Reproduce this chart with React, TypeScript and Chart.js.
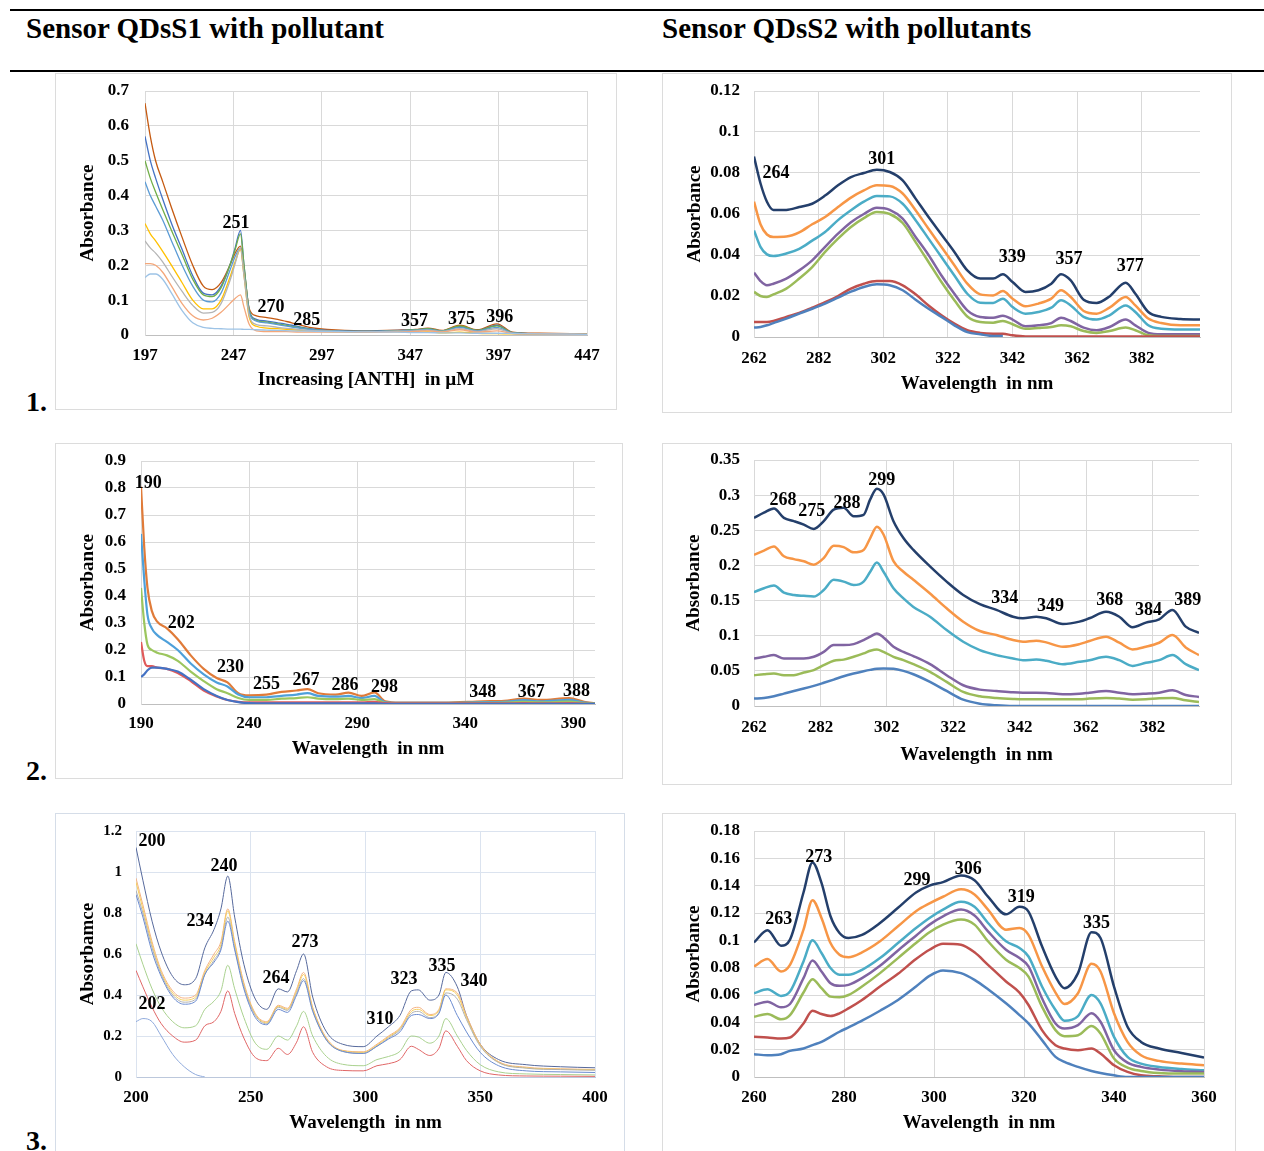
import React, { useEffect, useRef } from 'react';
import { Chart, registerables } from 'chart.js';

Chart.register(...registerables);

const FONT = '"Liberation Serif", "Times New Roman", serif';

// ---------- Chart 1 : Sensor QDsS1 + ANTH ----------
const X1 = [197, 200, 203, 207, 212, 218, 224, 230, 235, 240, 245, 248, 251, 253, 256, 260, 266, 272, 280, 290, 300, 320, 340, 350, 357, 365, 375, 385, 396, 405, 420, 447];
const S1_BROWN = [0.665, 0.57, 0.5, 0.44, 0.365, 0.28, 0.2, 0.14, 0.13, 0.15, 0.2, 0.235, 0.255, 0.19, 0.075, 0.055, 0.05, 0.045, 0.035, 0.022, 0.016, 0.012, 0.014, 0.016, 0.02, 0.013, 0.028, 0.015, 0.032, 0.008, 0.005, 0.003];
const S1_BLUE = [0.57, 0.5, 0.45, 0.39, 0.32, 0.245, 0.17, 0.12, 0.115, 0.14, 0.2, 0.25, 0.3, 0.2, 0.07, 0.045, 0.04, 0.035, 0.028, 0.018, 0.013, 0.011, 0.013, 0.015, 0.018, 0.012, 0.024, 0.013, 0.028, 0.007, 0.004, 0.002];
const S1_GREEN = [0.5, 0.45, 0.41, 0.36, 0.3, 0.23, 0.16, 0.115, 0.11, 0.135, 0.2, 0.245, 0.29, 0.2, 0.07, 0.042, 0.037, 0.032, 0.025, 0.017, 0.012, 0.01, 0.012, 0.015, 0.018, 0.012, 0.026, 0.013, 0.026, 0.007, 0.004, 0.002];
const S1_BLUE2 = [0.44, 0.4, 0.37, 0.33, 0.27, 0.2, 0.14, 0.1, 0.095, 0.12, 0.185, 0.225, 0.25, 0.18, 0.065, 0.04, 0.035, 0.03, 0.023, 0.016, 0.012, 0.01, 0.012, 0.014, 0.016, 0.011, 0.022, 0.012, 0.022, 0.006, 0.004, 0.002];
const S1_YELLOW = [0.32, 0.29, 0.27, 0.24, 0.2, 0.15, 0.1, 0.075, 0.075, 0.1, 0.165, 0.21, 0.245, 0.17, 0.05, 0.025, 0.02, 0.018, 0.015, 0.012, 0.01, 0.009, 0.01, 0.008, 0.009, 0.006, 0.008, 0.005, 0.004, 0.003, 0.002, 0.002];
const S1_GRAY = [0.27, 0.25, 0.235, 0.21, 0.17, 0.125, 0.085, 0.063, 0.065, 0.09, 0.155, 0.205, 0.25, 0.17, 0.055, 0.03, 0.026, 0.022, 0.018, 0.013, 0.011, 0.009, 0.011, 0.012, 0.014, 0.01, 0.018, 0.01, 0.018, 0.005, 0.003, 0.002];
const S1_SALMON = [0.205, 0.205, 0.2, 0.18, 0.14, 0.09, 0.055, 0.043, 0.048, 0.065, 0.09, 0.105, 0.115, 0.08, 0.03, 0.012, 0.01, 0.01, 0.009, 0.008, 0.008, 0.008, 0.009, 0.01, 0.012, 0.009, 0.015, 0.008, 0.012, 0.004, 0.003, 0.002];
const S1_LIGHTBLUE = [0.165, 0.175, 0.175, 0.16, 0.12, 0.07, 0.035, 0.022, 0.019, 0.018, 0.017, 0.017, 0.017, 0.016, 0.016, 0.015, 0.014, 0.013, 0.012, 0.011, 0.01, 0.009, 0.008, 0.007, 0.007, 0.006, 0.006, 0.005, 0.005, 0.004, 0.003, 0.002];
const X1_TICKS = [197, 247, 297, 347, 397, 447];
const PEAKS1: [string, number, number][] = [['251', 248.4, 0.321], ['270', 268.2, 0.08], ['285', 288.5, 0.043], ['357', 349.5, 0.04], ['375', 376, 0.046], ['396', 397.6, 0.051]];

// ---------- Chart 2 : Sensor QDsS2 (row 1) ----------
const X2 = [262, 264, 266, 268, 272, 276, 280, 284, 288, 292, 296, 300, 304, 308, 312, 316, 320, 324, 328, 332, 336, 339, 342, 346, 350, 354, 357, 360, 364, 368, 372, 377, 380, 384, 388, 394, 400];
const S2_NAVY = [0.088, 0.075, 0.066, 0.062, 0.062, 0.0634, 0.065, 0.069, 0.074, 0.078, 0.08, 0.0816, 0.0805, 0.0764, 0.0675, 0.0585, 0.05, 0.0415, 0.0325, 0.0285, 0.0285, 0.0306, 0.0268, 0.022, 0.0228, 0.026, 0.0306, 0.0276, 0.0182, 0.0166, 0.0198, 0.0265, 0.0211, 0.0122, 0.0098, 0.0088, 0.0085];
const S2_ORANGE = [0.066, 0.055, 0.05, 0.0488, 0.049, 0.051, 0.055, 0.0585, 0.0634, 0.068, 0.0715, 0.074, 0.0737, 0.07, 0.0618, 0.0528, 0.0439, 0.035, 0.026, 0.0208, 0.0203, 0.0224, 0.0187, 0.015, 0.0163, 0.0187, 0.0228, 0.0195, 0.0127, 0.0114, 0.0143, 0.0195, 0.0154, 0.009, 0.0068, 0.0057, 0.0057];
const S2_AQUA = [0.052, 0.044, 0.0403, 0.0395, 0.0407, 0.043, 0.047, 0.0512, 0.057, 0.0618, 0.066, 0.0688, 0.0686, 0.065, 0.057, 0.048, 0.039, 0.03, 0.0211, 0.0167, 0.0166, 0.0187, 0.0146, 0.0114, 0.0122, 0.0143, 0.0179, 0.0154, 0.0098, 0.0085, 0.0106, 0.0154, 0.0122, 0.0057, 0.004, 0.0036, 0.0036];
const S2_PURPLE = [0.0314, 0.0273, 0.0252, 0.026, 0.0285, 0.0325, 0.0374, 0.044, 0.0504, 0.056, 0.06, 0.063, 0.062, 0.0577, 0.0488, 0.04, 0.03, 0.0211, 0.013, 0.0098, 0.0094, 0.0104, 0.0085, 0.0052, 0.0057, 0.0068, 0.0094, 0.0078, 0.0046, 0.0033, 0.0049, 0.0085, 0.0057, 0.002, 0.0013, 0.0013, 0.0013];
const S2_GREEN = [0.022, 0.02, 0.0195, 0.0208, 0.0236, 0.0285, 0.0341, 0.0415, 0.048, 0.0537, 0.058, 0.061, 0.06, 0.0556, 0.0463, 0.0366, 0.0268, 0.0179, 0.01, 0.0073, 0.007, 0.0078, 0.0062, 0.004, 0.0044, 0.0049, 0.0057, 0.0052, 0.0029, 0.002, 0.0029, 0.0046, 0.0033, 0.0008, 0.0005, 0.0005, 0.0005];
const S2_RED = [0.0073, 0.0073, 0.0073, 0.0078, 0.0098, 0.0117, 0.0143, 0.017, 0.02, 0.0236, 0.026, 0.0273, 0.0273, 0.0252, 0.0208, 0.0154, 0.0106, 0.0065, 0.0033, 0.002, 0.0016, 0.0016, 0.0008, 0.0003, 0.0003, 0.0003, 0.0003, 0.0003, 0.0003, 0.0003, 0.0003, 0.0003, 0.0003, 0.0003, 0.0003, 0.0003, 0.0003];
const S2_BLUE = [0.0046, 0.0049, 0.0057, 0.0068, 0.009, 0.0114, 0.0138, 0.0163, 0.0192, 0.0221, 0.0244, 0.0257, 0.0252, 0.0228, 0.0182, 0.0138, 0.0098, 0.0057, 0.0024, 0.0013, 0.0005, 0.0005, null, null, null, null, null, null, null, null, null, null, null, null, null, null, null];
const X2_TICKS = [262, 282, 302, 322, 342, 362, 382];
const PEAKS2: [string, number, number][] = [['264', 268.8, 0.0796], ['301', 301.5, 0.0868], ['339', 341.9, 0.0388], ['357', 359.5, 0.0378], ['377', 378.4, 0.0344]];

// ---------- Chart 3 : Sensor QDsS1 (row 2) ----------
const X3 = [190, 191.5, 193, 195, 197.5, 202, 207, 213, 219, 225, 230, 235, 240, 248, 255, 262, 267, 272, 280, 286, 292, 298, 303, 310, 330, 348, 358, 367, 375, 388, 395, 400];
const S3_ORANGE = [0.805, 0.58, 0.43, 0.345, 0.305, 0.28, 0.24, 0.18, 0.13, 0.096, 0.08, 0.04, 0.032, 0.035, 0.045, 0.05, 0.055, 0.04, 0.035, 0.042, 0.03, 0.043, 0.01, 0.005, 0.005, 0.01, 0.012, 0.02, 0.015, 0.022, 0.008, 0.003];
const S3_BLUE = [0.63, 0.46, 0.33, 0.28, 0.255, 0.23, 0.2, 0.15, 0.11, 0.08, 0.065, 0.035, 0.025, 0.025, 0.03, 0.035, 0.04, 0.03, 0.027, 0.03, 0.022, 0.03, 0.006, 0.004, 0.004, 0.007, 0.008, 0.014, 0.01, 0.015, 0.005, 0.002];
const S3_GREEN = [0.43, 0.3, 0.22, 0.2, 0.19, 0.18, 0.16, 0.12, 0.085, 0.055, 0.04, 0.022, 0.015, 0.015, 0.02, 0.022, 0.025, 0.02, 0.018, 0.02, 0.015, 0.018, 0.004, 0.003, 0.003, 0.004, 0.005, 0.008, 0.006, 0.009, 0.003, 0.002];
const S3_RED = [0.23, 0.16, 0.14, 0.14, 0.135, 0.13, 0.115, 0.085, 0.05, 0.028, 0.015, 0.008, 0.006, 0.006, 0.006, 0.006, 0.006, 0.006, 0.006, 0.006, 0.006, 0.008, 0.003, 0.002, 0.002, 0.002, 0.002, 0.003, 0.002, 0.003, 0.001, 0.001];
const S3_DARKBLUE = [0.1, 0.11, 0.125, 0.135, 0.135, 0.13, 0.12, 0.09, 0.055, 0.03, 0.015, 0.007, 0.003, 0.002, 0.002, 0.002, 0.002, 0.002, 0.002, 0.002, 0.002, 0.002, 0.001, 0.001, 0.001, 0.001, 0.001, 0.001, 0.001, 0.001, 0.001, 0.001];
const X3_TICKS = [190, 240, 290, 340, 390];
const PEAKS3: [string, number, number][] = [['190', 193.3, 0.818], ['202', 208.6, 0.3], ['230', 231.4, 0.137], ['255', 248.1, 0.074], ['267', 266.3, 0.089], ['286', 284.4, 0.07], ['298', 302.6, 0.063], ['348', 348.1, 0.044], ['367', 370.5, 0.044], ['388', 391.4, 0.048]];

// ---------- Chart 4 : Sensor QDsS2 (row 2) ----------
const X4 = [262, 265, 268, 271, 274, 277, 280, 283, 286, 289, 292, 295, 297, 299, 301, 304, 307, 310, 315, 320, 325, 330, 335, 340, 343, 347, 350, 355, 360, 363, 368, 372, 376, 380, 384, 388, 392, 396];
const S4_NAVY = [0.2676, 0.275, 0.281, 0.2676, 0.263, 0.258, 0.252, 0.263, 0.2795, 0.282, 0.27, 0.272, 0.294, 0.309, 0.301, 0.263, 0.239, 0.222, 0.1986, 0.177, 0.158, 0.145, 0.1367, 0.127, 0.1248, 0.127, 0.1248, 0.1167, 0.12, 0.1248, 0.134, 0.127, 0.112, 0.1186, 0.1233, 0.1367, 0.113, 0.104];
const S4_ORANGE = [0.215, 0.221, 0.227, 0.213, 0.209, 0.206, 0.201, 0.2105, 0.228, 0.226, 0.2186, 0.222, 0.239, 0.255, 0.244, 0.206, 0.191, 0.1795, 0.16, 0.139, 0.12, 0.1067, 0.101, 0.0938, 0.0914, 0.093, 0.0905, 0.0843, 0.088, 0.0924, 0.0986, 0.09, 0.0805, 0.0843, 0.09, 0.101, 0.0833, 0.0724];
const S4_AQUA = [0.162, 0.1676, 0.1714, 0.1614, 0.158, 0.1567, 0.1557, 0.165, 0.1795, 0.177, 0.172, 0.177, 0.191, 0.204, 0.191, 0.1676, 0.153, 0.141, 0.127, 0.108, 0.0914, 0.0795, 0.0724, 0.0676, 0.0652, 0.066, 0.0643, 0.0595, 0.0629, 0.0652, 0.07, 0.0652, 0.057, 0.0614, 0.0652, 0.0724, 0.0595, 0.051];
const S4_PURPLE = [0.0676, 0.07, 0.0724, 0.0676, 0.0676, 0.0676, 0.07, 0.077, 0.0867, 0.0867, 0.088, 0.0938, 0.0986, 0.1033, 0.0976, 0.0843, 0.077, 0.071, 0.0595, 0.0438, 0.0295, 0.0233, 0.0214, 0.0195, 0.019, 0.019, 0.0186, 0.0167, 0.0176, 0.019, 0.0214, 0.019, 0.0167, 0.0176, 0.019, 0.0224, 0.0157, 0.0129];
const S4_GREEN = [0.0438, 0.0452, 0.0462, 0.0438, 0.0438, 0.0476, 0.051, 0.058, 0.0643, 0.066, 0.07, 0.0748, 0.0786, 0.0805, 0.077, 0.07, 0.0652, 0.0595, 0.0486, 0.0343, 0.02, 0.0138, 0.0114, 0.01, 0.0095, 0.0095, 0.0095, 0.0095, 0.0095, 0.0105, 0.0114, 0.0105, 0.009, 0.0095, 0.011, 0.0114, 0.0081, 0.0057];
const S4_BLUE = [0.0105, 0.0114, 0.0138, 0.0176, 0.0214, 0.0248, 0.0286, 0.033, 0.0376, 0.0424, 0.0462, 0.0495, 0.0514, 0.0529, 0.0533, 0.0529, 0.05, 0.0452, 0.0343, 0.0214, 0.009, 0.0033, 0.001, 0, 0, 0, 0, 0, 0, 0, 0, 0, 0, 0, 0, 0, 0, 0];
const X4_TICKS = [262, 282, 302, 322, 342, 362, 382];
const PEAKS4: [string, number, number][] = [['268', 270.7, 0.293], ['275', 279.4, 0.277], ['288', 290, 0.289], ['299', 300.5, 0.3215], ['334', 337.5, 0.1536], ['349', 351.3, 0.142], ['368', 369.1, 0.151], ['384', 380.8, 0.1366], ['389', 392.6, 0.151]];

// ---------- Chart 5 : Sensor QDsS1 (row 3) ----------
const X5 = [200, 203, 207, 211, 216, 221, 226, 230, 234, 237, 240, 243, 247, 252, 257, 262, 266, 270, 273, 277, 283, 290, 299, 305, 310, 315, 320, 323, 328, 332, 335, 340, 344, 350, 358, 370, 385, 400];
const S5_SLATE = [1.12, 0.96, 0.76, 0.61, 0.49, 0.45, 0.48, 0.63, 0.72, 0.82, 0.98, 0.78, 0.55, 0.38, 0.33, 0.43, 0.415, 0.52, 0.6, 0.39, 0.22, 0.16, 0.148, 0.2, 0.245, 0.3, 0.42, 0.425, 0.375, 0.4, 0.51, 0.44, 0.3, 0.16, 0.085, 0.06, 0.05, 0.045];
const S5_ORANGE = [0.97, 0.84, 0.66, 0.52, 0.42, 0.385, 0.4, 0.52, 0.6, 0.66, 0.82, 0.66, 0.46, 0.31, 0.27, 0.35, 0.335, 0.43, 0.51, 0.34, 0.19, 0.13, 0.123, 0.16, 0.2, 0.24, 0.33, 0.34, 0.305, 0.33, 0.43, 0.41, 0.3, 0.16, 0.075, 0.048, 0.04, 0.037];
const S5_YELLOW = [0.95, 0.82, 0.645, 0.51, 0.41, 0.375, 0.39, 0.51, 0.585, 0.645, 0.81, 0.65, 0.45, 0.305, 0.265, 0.345, 0.33, 0.42, 0.5, 0.335, 0.185, 0.128, 0.12, 0.155, 0.195, 0.235, 0.32, 0.33, 0.3, 0.325, 0.425, 0.4, 0.29, 0.155, 0.072, 0.045, 0.038, 0.035];
const S5_GRAY = [0.91, 0.8, 0.63, 0.5, 0.4, 0.365, 0.38, 0.5, 0.57, 0.63, 0.78, 0.63, 0.44, 0.3, 0.26, 0.34, 0.325, 0.41, 0.48, 0.325, 0.18, 0.125, 0.115, 0.15, 0.19, 0.23, 0.31, 0.32, 0.29, 0.315, 0.41, 0.38, 0.28, 0.15, 0.07, 0.043, 0.036, 0.033];
const S5_BLUE = [0.89, 0.78, 0.61, 0.49, 0.39, 0.355, 0.37, 0.5, 0.56, 0.62, 0.76, 0.62, 0.43, 0.29, 0.255, 0.33, 0.315, 0.4, 0.47, 0.32, 0.18, 0.125, 0.115, 0.15, 0.185, 0.22, 0.3, 0.305, 0.285, 0.31, 0.4, 0.3, 0.22, 0.12, 0.055, 0.03, 0.025, 0.022];
const S5_GREEN = [0.65, 0.55, 0.43, 0.34, 0.27, 0.24, 0.25, 0.33, 0.37, 0.42, 0.545, 0.43, 0.29, 0.165, 0.135, 0.2, 0.18, 0.25, 0.32, 0.2, 0.1, 0.062, 0.055, 0.085, 0.1, 0.125, 0.2, 0.195, 0.165, 0.2, 0.285, 0.2, 0.13, 0.06, 0.025, 0.015, 0.012, 0.01];
const S5_RED = [0.52, 0.44, 0.34, 0.26, 0.2, 0.17, 0.18, 0.25, 0.27, 0.32, 0.42, 0.31, 0.19, 0.095, 0.08, 0.14, 0.11, 0.17, 0.245, 0.12, 0.05, 0.032, 0.03, 0.055, 0.065, 0.085, 0.15, 0.135, 0.105, 0.14, 0.225, 0.15, 0.08, 0.03, 0.01, 0.005, 0.004, 0.003];
const S5_LIGHTBLUE = [0.27, 0.285, 0.27, 0.2, 0.11, 0.05, 0.012, 0, null, null, null, null, null, null, null, null, null, null, null, null, null, null, null, null, null, null, null, null, null, null, null, null, null, null, null, null, null, null];
const X5_TICKS = [200, 250, 300, 350, 400];
const PEAKS5: [string, number, number][] = [['200', 207, 1.151], ['240', 238.3, 1.029], ['234', 227.9, 0.761], ['273', 273.6, 0.659], ['264', 261, 0.483], ['202', 207, 0.356], ['310', 306.3, 0.283], ['323', 316.8, 0.478], ['335', 333.3, 0.541], ['340', 347.3, 0.468]];

// ---------- Chart 6 : Sensor QDsS2 (row 3) ----------
const X6 = [260, 263, 266, 268, 271, 273, 275, 277, 279, 281, 284, 288, 292, 296, 299, 302, 306, 309, 312, 316, 319, 321, 324, 327, 329, 332, 335, 337, 340, 343, 346, 350, 355, 360];
const S6_NAVY = [0.0985, 0.1074, 0.0961, 0.1005, 0.135, 0.157, 0.142, 0.1176, 0.1054, 0.1017, 0.104, 0.1127, 0.1238, 0.135, 0.14, 0.1426, 0.1475, 0.144, 0.132, 0.119, 0.1245, 0.121, 0.0956, 0.0735, 0.065, 0.076, 0.1059, 0.1017, 0.0662, 0.0368, 0.0257, 0.0208, 0.0176, 0.0142];
const S6_ORANGE = [0.0809, 0.0863, 0.0772, 0.0821, 0.1078, 0.1294, 0.1164, 0.098, 0.0895, 0.0877, 0.0912, 0.0993, 0.1103, 0.1213, 0.127, 0.1319, 0.1373, 0.1336, 0.1225, 0.1078, 0.109, 0.104, 0.081, 0.0618, 0.0534, 0.0613, 0.0828, 0.0772, 0.0466, 0.0257, 0.0159, 0.0118, 0.0098, 0.0086];
const S6_AQUA = [0.0613, 0.0642, 0.0593, 0.0625, 0.0846, 0.1, 0.0907, 0.0797, 0.0748, 0.0748, 0.0784, 0.087, 0.098, 0.109, 0.1164, 0.1225, 0.1282, 0.1245, 0.1127, 0.0993, 0.0944, 0.0882, 0.0662, 0.049, 0.0412, 0.0446, 0.06, 0.0539, 0.0294, 0.0147, 0.0098, 0.0074, 0.0059, 0.0049];
const S6_PURPLE = [0.0527, 0.0551, 0.051, 0.0534, 0.0723, 0.0853, 0.0772, 0.0686, 0.0667, 0.0674, 0.0723, 0.0814, 0.0926, 0.1034, 0.1115, 0.1176, 0.1225, 0.1181, 0.1066, 0.0931, 0.087, 0.0809, 0.0576, 0.0392, 0.0355, 0.038, 0.0466, 0.0404, 0.0196, 0.0105, 0.0074, 0.0054, 0.0042, 0.0037];
const S6_GREEN = [0.0441, 0.0461, 0.0422, 0.0453, 0.0618, 0.0716, 0.065, 0.0588, 0.0583, 0.06, 0.0662, 0.076, 0.087, 0.098, 0.1059, 0.1115, 0.1152, 0.1115, 0.0993, 0.0858, 0.0797, 0.0735, 0.0515, 0.0343, 0.0299, 0.0306, 0.0373, 0.0319, 0.0135, 0.0069, 0.0044, 0.0029, 0.0025, 0.0025];
const S6_RED = [0.0294, 0.0289, 0.0282, 0.0289, 0.0392, 0.0485, 0.0461, 0.0446, 0.0466, 0.0502, 0.0564, 0.0662, 0.0755, 0.0863, 0.0931, 0.0975, 0.0968, 0.0912, 0.0821, 0.0699, 0.0618, 0.0527, 0.0343, 0.0233, 0.0208, 0.0196, 0.0208, 0.0172, 0.0086, 0.0037, 0.0012, 0.0005, 0, 0];
const S6_BLUE = [0.0167, 0.0159, 0.0167, 0.0191, 0.0208, 0.0233, 0.0257, 0.0294, 0.0331, 0.0363, 0.0412, 0.0485, 0.0564, 0.0662, 0.074, 0.0779, 0.076, 0.0711, 0.0642, 0.0539, 0.0453, 0.0392, 0.027, 0.0147, 0.011, 0.0074, 0.0044, 0.0029, 0.0012, 0, 0, 0, 0, 0];
const X6_TICKS = [260, 280, 300, 320, 340, 360];
const PEAKS6: [string, number, number][] = [['263', 265.5, 0.1156], ['273', 274.4, 0.161], ['299', 296.2, 0.1441], ['306', 307.6, 0.152], ['319', 319.4, 0.1317], ['335', 336.1, 0.1127]];

// ---------- Figure text ----------
const HEAD_LEFT = 'Sensor QDsS1 with pollutant';
const HEAD_RIGHT = 'Sensor QDsS2 with pollutants';
const ROW_LABELS = ['1.', '2.', '3.'];

type Series = { values: (number | null)[]; color: string };
type Spec = {
  panel: number[];
  plot: number[];
  borderColor: string;
  xs: number[];
  series: Series[];
  lineWidth: number;
  xMin: number; xMax: number; xTicks: number[];
  yMax: number; yStep: number;
  yTitle: string; xTitle: string;
  yTitleX: number; xTitleY: number;
  yTickPad: number; xTickPad: number;
  yTickSize: number; xTickSize: number;
  gridColor: string; axisColor: string;
  peaks: [string, number, number][];
};

const OFFICE = { navy: '#243f6b', orange: '#f79646', aqua: '#4bacc6', purple: '#8064a2', green: '#9bbb59', red: '#c0504d', blue: '#4f81bd' };

const SPECS: Spec[] = [
  {
    panel: [55, 73, 617, 410], plot: [145, 91, 587, 335], borderColor: '#dcdcdc',
    xs: X1,
    series: [
      { values: S1_LIGHTBLUE, color: '#9dc3e6' }, { values: S1_SALMON, color: '#f4a77a' }, { values: S1_GRAY, color: '#b4b4b4' },
      { values: S1_YELLOW, color: '#ffc000' }, { values: S1_BLUE2, color: '#5b9bd5' }, { values: S1_GREEN, color: '#70ad47' },
      { values: S1_BLUE, color: '#4472c4' }, { values: S1_BROWN, color: '#c55a11' },
    ],
    lineWidth: 1.3, xMin: 197, xMax: 447, xTicks: X1_TICKS, yMax: 0.7, yStep: 0.1,
    yTitle: 'Absorbance', xTitle: 'Increasing [ANTH]  in µM', yTitleX: 88, xTitleY: 380,
    yTickPad: 16, xTickPad: 10, yTickSize: 17, xTickSize: 17, gridColor: '#d9d9d9', axisColor: '#bfbfbf', peaks: PEAKS1,
  },
  {
    panel: [662, 73, 1232, 413], plot: [754, 91, 1200, 337], borderColor: '#dcdcdc',
    xs: X2,
    series: [
      { values: S2_BLUE, color: OFFICE.blue }, { values: S2_RED, color: OFFICE.red }, { values: S2_GREEN, color: OFFICE.green },
      { values: S2_PURPLE, color: OFFICE.purple }, { values: S2_AQUA, color: OFFICE.aqua }, { values: S2_ORANGE, color: OFFICE.orange },
      { values: S2_NAVY, color: OFFICE.navy },
    ],
    lineWidth: 2.5, xMin: 262, xMax: 400, xTicks: X2_TICKS, yMax: 0.12, yStep: 0.02,
    yTitle: 'Absorbance', xTitle: 'Wavelength  in nm', yTitleX: 695, xTitleY: 384,
    yTickPad: 14, xTickPad: 11, yTickSize: 17, xTickSize: 17, gridColor: '#d9d9d9', axisColor: '#bfbfbf', peaks: PEAKS2,
  },
  {
    panel: [55, 443, 623, 779], plot: [141, 461, 595, 704], borderColor: '#dcdcdc',
    xs: X3,
    series: [
      { values: S3_DARKBLUE, color: '#4472c4' }, { values: S3_RED, color: '#e05a5a' }, { values: S3_GREEN, color: '#9cc65e' },
      { values: S3_BLUE, color: '#4ea0da' }, { values: S3_ORANGE, color: '#e07b39' },
    ],
    lineWidth: 2.2, xMin: 190, xMax: 400, xTicks: X3_TICKS, yMax: 0.9, yStep: 0.1,
    yTitle: 'Absorbance', xTitle: 'Wavelength  in nm', yTitleX: 88, xTitleY: 749,
    yTickPad: 15, xTickPad: 9, yTickSize: 17, xTickSize: 17, gridColor: '#d9d9d9', axisColor: '#bfbfbf', peaks: PEAKS3,
  },
  {
    panel: [662, 443, 1232, 785], plot: [754, 460, 1199, 706], borderColor: '#dcdcdc',
    xs: X4,
    series: [
      { values: S4_BLUE, color: OFFICE.blue }, { values: S4_GREEN, color: OFFICE.green }, { values: S4_PURPLE, color: OFFICE.purple },
      { values: S4_AQUA, color: OFFICE.aqua }, { values: S4_ORANGE, color: OFFICE.orange }, { values: S4_NAVY, color: OFFICE.navy },
    ],
    lineWidth: 2.5, xMin: 262, xMax: 396, xTicks: X4_TICKS, yMax: 0.35, yStep: 0.05,
    yTitle: 'Absorbance', xTitle: 'Wavelength  in nm', yTitleX: 694, xTitleY: 755,
    yTickPad: 14, xTickPad: 11, yTickSize: 17, xTickSize: 17, gridColor: '#d9d9d9', axisColor: '#bfbfbf', peaks: PEAKS4,
  },
  {
    panel: [55, 813, 625, 1170], plot: [136, 831, 595, 1077], borderColor: '#d5dde8',
    xs: X5,
    series: [
      { values: S5_LIGHTBLUE, color: '#8faadc' }, { values: S5_RED, color: '#e06666' }, { values: S5_GREEN, color: '#a9d18e' },
      { values: S5_BLUE, color: '#6a8bd0' }, { values: S5_GRAY, color: '#b0b0b0' }, { values: S5_YELLOW, color: '#f6cf5b' },
      { values: S5_ORANGE, color: '#f4b183' }, { values: S5_SLATE, color: '#56699c' },
    ],
    lineWidth: 1, xMin: 200, xMax: 400, xTicks: X5_TICKS, yMax: 1.2, yStep: 0.2,
    yTitle: 'Absorbamce', xTitle: 'Wavelength  in nm', yTitleX: 88, xTitleY: 1123,
    yTickPad: 14, xTickPad: 10, yTickSize: 15, xTickSize: 17, gridColor: '#dbe3ef', axisColor: '#bcc8dc', peaks: PEAKS5,
  },
  {
    panel: [662, 813, 1236, 1170], plot: [754, 831, 1204, 1077], borderColor: '#dcdcdc',
    xs: X6,
    series: [
      { values: S6_BLUE, color: OFFICE.blue }, { values: S6_RED, color: OFFICE.red }, { values: S6_GREEN, color: OFFICE.green },
      { values: S6_PURPLE, color: OFFICE.purple }, { values: S6_AQUA, color: OFFICE.aqua }, { values: S6_ORANGE, color: OFFICE.orange },
      { values: S6_NAVY, color: OFFICE.navy },
    ],
    lineWidth: 2.5, xMin: 260, xMax: 360, xTicks: X6_TICKS, yMax: 0.18, yStep: 0.02,
    yTitle: 'Absorbance', xTitle: 'Wavelength  in nm', yTitleX: 694, xTitleY: 1123,
    yTickPad: 14, xTickPad: 10, yTickSize: 17, xTickSize: 17, gridColor: '#d9d9d9', axisColor: '#bfbfbf', peaks: PEAKS6,
  },
];

const TITLE_SIZE = 19;
const PEAK_SIZE = 18;

function fmtY(v: number): string {
  if (Math.abs(v) < 1e-9) return '0';
  return String(parseFloat(v.toFixed(4)));
}

function ChartPanel({ spec }: { spec: Spec }) {
  const ref = useRef<HTMLCanvasElement | null>(null);
  const [pl, pt, pr, pb] = spec.panel;
  const [al, at, ar, ab] = spec.plot;
  const w = pr - pl;
  const h = pb - pt;

  useEffect(() => {
    if (!ref.current) return;
    const lh = TITLE_SIZE * 1.2;
    const peakPlugin = {
      id: 'peakLabels',
      afterDatasetsDraw(chart: any) {
        const { ctx, scales } = chart;
        ctx.save();
        ctx.font = `bold ${PEAK_SIZE}px ${FONT}`;
        ctx.fillStyle = '#000';
        ctx.textAlign = 'center';
        ctx.textBaseline = 'middle';
        spec.peaks.forEach(([t, xv, yv]) => {
          ctx.fillText(t, scales.x.getPixelForValue(xv), scales.y.getPixelForValue(yv));
        });
        ctx.restore();
      },
    };
    const chart = new Chart(ref.current, {
      type: 'line',
      data: {
        datasets: spec.series.map((s) => ({
          data: spec.xs.map((x, i) => ({ x, y: s.values[i] })),
          borderColor: s.color,
          backgroundColor: s.color,
          borderWidth: spec.lineWidth,
          pointRadius: 0,
          fill: false,
          cubicInterpolationMode: 'monotone',
          spanGaps: false,
        })),
      } as any,
      options: {
        responsive: false,
        animation: false,
        devicePixelRatio: 1,
        events: [],
        layout: { padding: { top: at - pt, right: pr - ar, left: 0, bottom: 0 } },
        plugins: { legend: { display: false }, tooltip: { enabled: false } },
        scales: {
          x: {
            type: 'linear',
            min: spec.xMin,
            max: spec.xMax,
            afterBuildTicks: (s: any) => { s.ticks = spec.xTicks.map((v) => ({ value: v })); },
            afterFit: (s: any) => { s.height = pb - ab; s.paddingLeft = 0; s.paddingRight = 0; },
            grid: { color: spec.gridColor, drawTicks: false, lineWidth: 1 },
            border: { color: spec.axisColor, width: 1 },
            ticks: {
              padding: spec.xTickPad, color: '#000', autoSkip: false, maxRotation: 0,
              font: { family: FONT, weight: 'bold', size: spec.xTickSize },
              callback: (v: any) => String(v),
            },
            title: {
              display: true, text: spec.xTitle, color: '#000',
              font: { family: FONT, weight: 'bold', size: TITLE_SIZE },
              padding: { top: 0, bottom: (pb - spec.xTitleY) - lh / 2 },
            },
          },
          y: {
            type: 'linear',
            min: 0,
            max: spec.yMax,
            afterFit: (s: any) => { s.width = al - pl; s.paddingTop = 0; s.paddingBottom = 0; },
            grid: { color: spec.gridColor, drawTicks: false, lineWidth: 1 },
            border: { color: spec.gridColor, width: 1 },
            ticks: {
              stepSize: spec.yStep, padding: spec.yTickPad, color: '#000',
              font: { family: FONT, weight: 'bold', size: spec.yTickSize },
              callback: (v: any) => fmtY(Number(v)),
            },
            title: {
              display: true, text: spec.yTitle, color: '#000',
              font: { family: FONT, weight: 'bold', size: TITLE_SIZE },
              padding: { top: (spec.yTitleX - pl) - lh / 2, bottom: 0 },
            },
          },
        },
      } as any,
      plugins: [peakPlugin],
    });
    return () => chart.destroy();
  }, []);

  return (
    <>
      <div
        style={{
          position: 'absolute', left: pl, top: pt, width: w, height: h,
          border: `1px solid ${spec.borderColor}`, boxSizing: 'border-box',
        }}
      />
      <canvas
        ref={ref}
        width={w}
        height={h}
        style={{ position: 'absolute', left: pl, top: pt, width: w, height: h }}
      />
    </>
  );
}

export default function App() {
  const headStyle: React.CSSProperties = {
    position: 'absolute', top: 14, fontFamily: FONT, fontWeight: 'bold', fontSize: 29, lineHeight: '29px',
    color: '#000', whiteSpace: 'nowrap',
  };
  const rowStyle: React.CSSProperties = {
    position: 'absolute', left: 26, fontFamily: FONT, fontWeight: 'bold', fontSize: 28, lineHeight: '28px', color: '#000',
  };
  const rowTops = [388, 757, 1127];
  return (
    <div style={{ position: 'absolute', left: 0, top: 0, width: 1264, height: 1151, overflow: 'hidden', background: '#fff' }}>
      <div style={{ position: 'absolute', left: 10, top: 9, width: 1254, height: 2, background: '#000' }} />
      <div style={{ ...headStyle, left: 26 }}>{HEAD_LEFT}</div>
      <div style={{ ...headStyle, left: 662 }}>{HEAD_RIGHT}</div>
      <div style={{ position: 'absolute', left: 10, top: 70, width: 1254, height: 2, background: '#000' }} />
      {ROW_LABELS.map((t, i) => (
        <div key={t} style={{ ...rowStyle, top: rowTops[i] }}>{t}</div>
      ))}
      {SPECS.map((s, i) => (
        <ChartPanel key={i} spec={s} />
      ))}
    </div>
  );
}
